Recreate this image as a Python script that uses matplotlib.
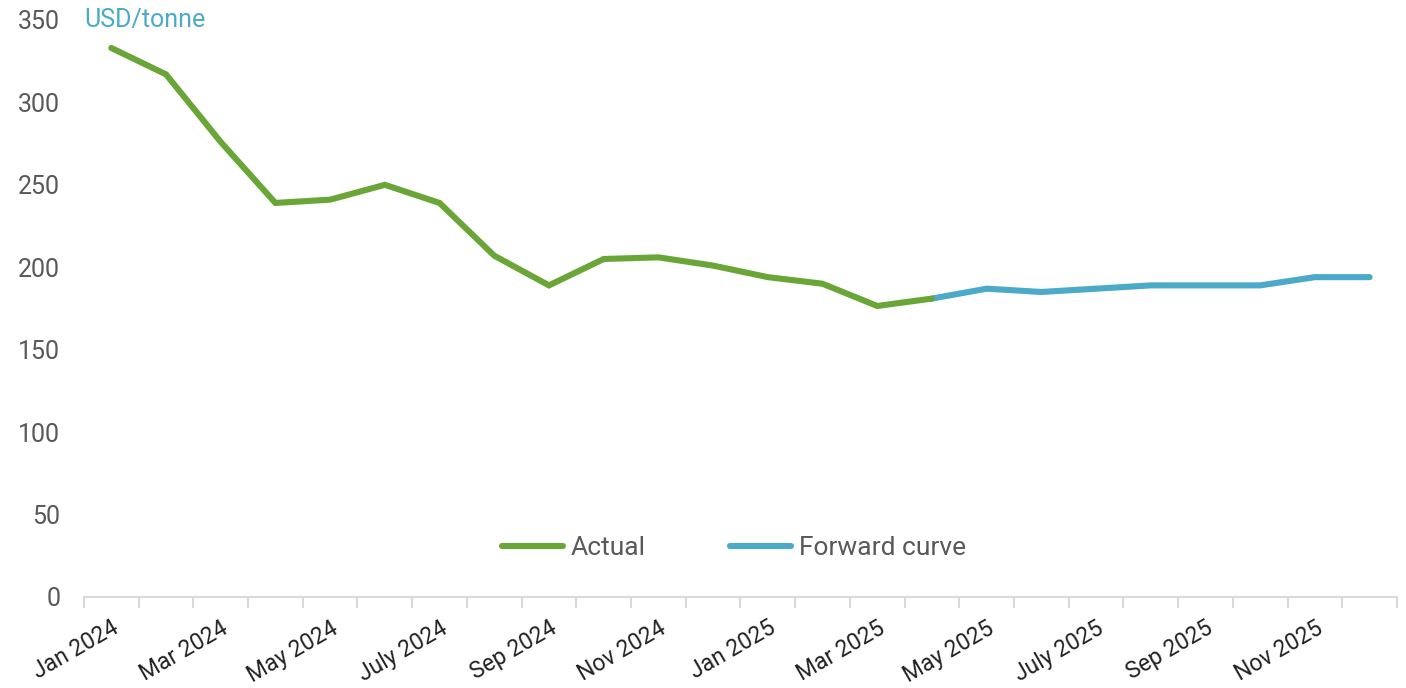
import numpy as np
import matplotlib
matplotlib.use("Agg")
import matplotlib.pyplot as plt

months = ["Jan 2024", "Feb 2024", "Mar 2024", "Apr 2024", "May 2024", "Jun 2024",
          "July 2024", "Aug 2024", "Sep 2024", "Oct 2024", "Nov 2024", "Dec 2024",
          "Jan 2025", "Feb 2025", "Mar 2025", "Apr 2025", "May 2025", "Jun 2025",
          "July 2025", "Aug 2025", "Sep 2025", "Oct 2025", "Nov 2025", "Dec 2025"]

# Jan 2024 .. Apr 2025
actual = [333, 317, 276, 239, 241, 250, 239, 207, 189, 205, 206, 201,
          194, 190, 176.5, 181]
# Apr 2025 .. Dec 2025
forward = [181, 187, 185, 187, 189, 189, 189, 194, 194]
forward_start = "Apr 2025"

green = "#6aa637"
blue = "#4aaac7"
grey = "#595959"
axis_grey = "#d9d9d9"

plt.rcParams['font.family'] = ['Roboto', 'DejaVu Sans']

fig = plt.figure(figsize=(14.06, 6.88), dpi=100)
ax = fig.add_axes([0.0597, 0.1323, 0.9339, 0.8387])

x_act = np.arange(len(actual))
i0 = months.index(forward_start)
x_fwd = np.arange(i0, i0 + len(forward))

ax.plot(x_act, actual, color=green, lw=4.4, solid_capstyle="round",
        solid_joinstyle="miter", label="Actual", zorder=3)
ax.plot(x_fwd, forward, color=blue, lw=4.4, solid_capstyle="round",
        solid_joinstyle="miter", label="Forward curve", zorder=2)

ax.set_xlim(-0.5, len(months) - 0.5)
ax.set_ylim(0, 350)
ax.set_yticks(range(0, 351, 50))
ax.tick_params(axis="y", length=0, pad=17, labelsize=18, labelcolor=grey)

# boundaries as major ticks, labels on minor ticks at centres
ax.set_xticks(np.arange(-0.5, len(months), 1.0))
ax.set_xticklabels([])
ax.tick_params(axis="x", which="major", length=8, width=1.5, color=axis_grey)
ax.set_xticks(np.arange(0, len(months), 2), minor=True)
ax.set_xticklabels(months[::2], minor=True, rotation=30, ha="right",
                   rotation_mode="anchor", fontsize=16.5, color="#222222")
ax.tick_params(axis="x", which="minor", length=0, pad=14)

for s in ["left", "right", "top"]:
    ax.spines[s].set_visible(False)
ax.spines["bottom"].set_color(axis_grey)
ax.spines["bottom"].set_linewidth(1.5)

ax.text(-0.5, 350, "USD/tonne", color=blue, fontsize=18,
        ha="left", va="center", transform=ax.transData)

leg = ax.legend(loc="center", bbox_to_anchor=(0.495, 0.085), ncol=2, frameon=False,
                fontsize=19, handlelength=2.3, handletextpad=0.3, columnspacing=3.2,
                labelcolor=grey)

fig.savefig("out.png", dpi=100)
